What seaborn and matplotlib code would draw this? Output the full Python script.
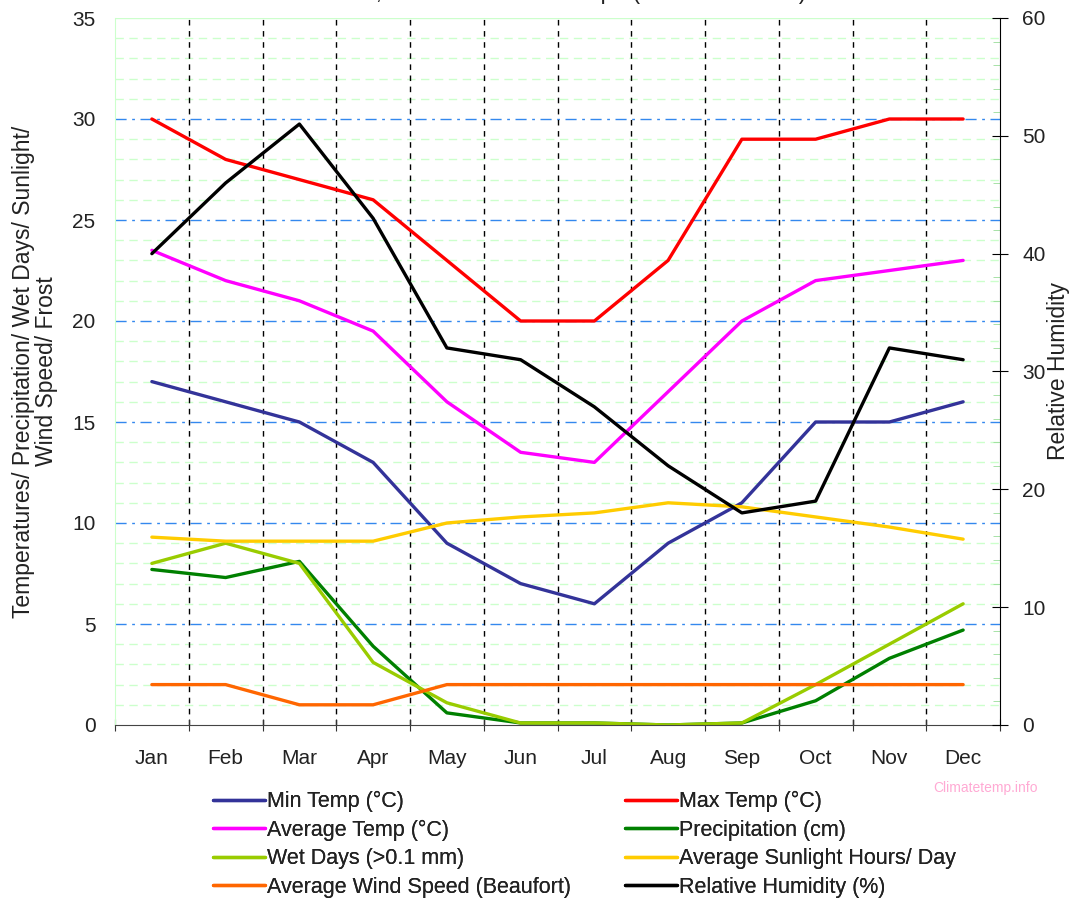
import matplotlib
matplotlib.use('Agg')
import matplotlib.pyplot as plt
import numpy as np
import pandas as pd
import seaborn as sns
from matplotlib.ticker import MultipleLocator, FixedLocator

months = ['Jan', 'Feb', 'Mar', 'Apr', 'May', 'Jun', 'Jul', 'Aug', 'Sep', 'Oct', 'Nov', 'Dec']
min_temp = [17, 16, 15, 13, 9, 7, 6, 9, 11, 15, 15, 16]
max_temp = [30, 28, 27, 26, 23, 20, 20, 23, 29, 29, 30, 30]
avg_temp = [23.5, 22, 21, 19.5, 16, 13.5, 13, 16.5, 20, 22, 22.5, 23]
precip = [7.7, 7.3, 8.1, 3.9, 0.6, 0.1, 0.1, 0.0, 0.1, 1.2, 3.3, 4.7]
wet_days = [8, 9, 8, 3.1, 1.1, 0.1, 0.1, 0.0, 0.1, 2, 4, 6]
sunlight = [9.3, 9.1, 9.1, 9.1, 10, 10.3, 10.5, 11, 10.8, 10.3, 9.8, 9.2]
wind = [2, 2, 1, 1, 2, 2, 2, 2, 2, 2, 2, 2]
humidity = [40, 46, 51, 43, 32, 31, 27, 22, 18, 19, 32, 31]

series = [
    ('Min Temp (°C)', min_temp, '#333399'),
    ('Max Temp (°C)', max_temp, '#ff0000'),
    ('Average Temp (°C)', avg_temp, '#ff00ff'),
    ('Precipitation (cm)', precip, '#008000'),
    ('Wet Days (>0.1 mm)', wet_days, '#99cc00'),
    ('Average Sunlight Hours/ Day', sunlight, '#ffcc00'),
    ('Average Wind Speed (Beaufort)', wind, '#ff6600'),
]

sns.set_style('white')
plt.rcParams['font.family'] = ['Liberation Sans', 'DejaVu Sans']
txt = '#222222'
fs = 15

fig = plt.figure(figsize=(10.7, 9.01), dpi=100)
ax = fig.add_axes([115 / 1070, 1 - 725 / 901, 885 / 1070, 707 / 901])

pos = np.arange(len(months))
df = pd.DataFrame({'pos': pos})
handles = {}
for name, vals, col in series:
    df[name] = vals
    sns.lineplot(data=df, x='pos', y=name, ax=ax, color=col, lw=2.4, label=name, legend=False)
    handles[name] = ax.lines[-1]

ax.set_xlim(-0.5, len(months) - 0.5)
ax.set_ylim(0, 35)
ax.set_xlabel('')
ax.set_ylabel('Temperatures/ Precipitation/ Wet Days/ Sunlight/\nWind Speed/ Frost',
              fontsize=16.5, color=txt, linespacing=1.0)
ax.yaxis.set_label_coords((35 - 115) / 885, 0.5)
ax.yaxis.label.set_va('center')

# grid: green minor dashes, blue dash-dot majors, black dashed month separators
ax.yaxis.set_major_locator(MultipleLocator(5))
ax.yaxis.set_minor_locator(MultipleLocator(1))
for v in range(1, 35):
    if v % 5:
        ax.axhline(v, color='#ccffcc', lw=1, ls=(0, (6, 4)), zorder=0)
for v in range(5, 35, 5):
    ax.axhline(v, color='#3388ee', lw=1, ls=(0, (8, 4, 2, 4)), zorder=0)
ax.axhline(35, color='#ccffcc', lw=1, zorder=0)
for b in np.arange(0.5, len(months) - 1, 1):
    ax.axvline(b, color='black', lw=1, ls=(0, (4, 4)), zorder=0)

ax.xaxis.set_major_locator(FixedLocator(np.arange(-0.5, len(months), 1)))
ax.xaxis.set_minor_locator(FixedLocator(pos))
ax.set_xticklabels([], minor=False)
ax.set_xticks(pos, months, minor=True)
ax.tick_params(axis='x', which='major', length=8, direction='inout', color='#333333', bottom=True)
ax.tick_params(axis='x', which='minor', length=0, pad=17, labelsize=fs, labelcolor=txt)
ax.tick_params(axis='y', which='both', length=0, pad=14, labelsize=fs, labelcolor=txt)

for s in ['top', 'right']:
    ax.spines[s].set_visible(False)
ax.spines['left'].set_color('#ccffcc')
ax.spines['bottom'].set_color('#444444')

# humidity on the right axis
ax2 = ax.twinx()
sns.lineplot(x=pos, y=humidity, ax=ax2, color='black', lw=2.4, legend=False)
handles['Relative Humidity (%)'] = ax2.lines[-1]
ax2.set_ylim(0, 60)
ax2.set_xlim(-0.5, len(months) - 0.5)
ax2.yaxis.set_major_locator(MultipleLocator(10))
ax2.yaxis.set_minor_locator(MultipleLocator(2))
ax2.tick_params(axis='y', which='major', length=12, direction='inout', pad=10,
                labelsize=fs, labelcolor=txt, color='black', right=True)
ax2.tick_params(axis='y', which='minor', length=5, direction='in', color='#99dd99', right=True)
ax2.set_ylabel('Relative Humidity', fontsize=16.5, color=txt)
ax2.yaxis.set_label_coords((1058 - 115) / 885, 0.5)
ax2.yaxis.label.set_va('center')
ax2.yaxis.label.set_rotation(90)
for s in ['top', 'left', 'bottom']:
    ax2.spines[s].set_visible(False)
ax2.spines['right'].set_color('black')

left_col = ['Min Temp (°C)', 'Average Temp (°C)', 'Wet Days (>0.1 mm)', 'Average Wind Speed (Beaufort)']
right_col = ['Max Temp (°C)', 'Precipitation (cm)', 'Average Sunlight Hours/ Day', 'Relative Humidity (%)']
for names, x0 in [(left_col, 213), (right_col, 625)]:
    leg = fig.legend([handles[n] for n in names], names, loc='upper left',
                     bbox_to_anchor=(x0 / 1070, 1 - 791 / 901), frameon=False, fontsize=15.5,
                     handlelength=2.4, handletextpad=0.1, labelspacing=0.35,
                     borderaxespad=0, borderpad=0)
    for t in leg.get_texts():
        t.set_color(txt)
    fig.add_artist(leg)

fig.text(1038 / 1070, 1 - 788 / 901, 'Climatetemp.info', ha='right', va='center',
         fontsize=10, color='#ffaad4')
fig.text(540 / 1070, 1 + 7 / 901, 'Windhoek, Namibia Climate Graph (Altitude: 1728m)',
         ha='center', va='center', fontsize=16.5, color=txt)

fig.savefig('out.png', dpi=100)
